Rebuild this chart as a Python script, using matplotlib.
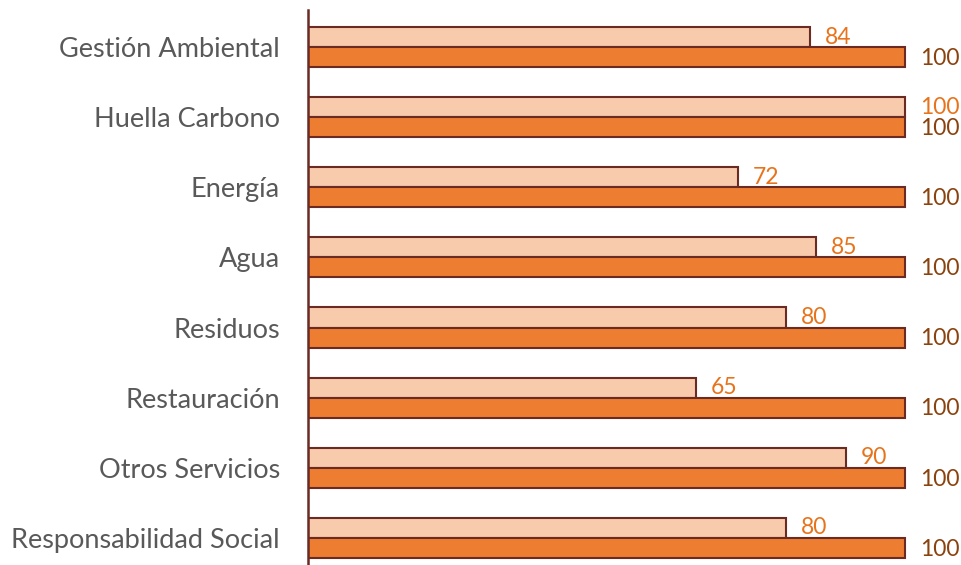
import matplotlib
matplotlib.use("Agg")
import matplotlib.pyplot as plt
import numpy as np

categories = ["Gestión Ambiental", "Huella Carbono", "Energía", "Agua",
              "Residuos", "Restauración", "Otros Servicios", "Responsabilidad Social"]
actual = [84, 100, 72, 85, 80, 65, 90, 80]
target = [100, 100, 100, 100, 100, 100, 100, 100]

LIGHT = "#F8CBAD"
DARK = "#ED7D31"
EDGE = "#6B2A22"
LBL_LIGHT = "#E8731A"
LBL_DARK = "#8A420E"

plt.rcParams["font.family"] = ["Lato", "DejaVu Sans"]

fig = plt.figure(figsize=(9.62, 5.65), dpi=100)
ax = fig.add_axes([0.32, 0.0, 0.68, 0.982])

y = np.arange(len(categories))
h = 0.286
ax.barh(y - h / 2, actual, height=h, color=LIGHT, edgecolor=EDGE, linewidth=1.5)
ax.barh(y + h / 2, target, height=h, color=DARK, edgecolor=EDGE, linewidth=1.5)

# value labels to the right of each bar
for yi, a, t in zip(y, actual, target):
    ax.annotate(str(a), (a, yi - h / 2), xytext=(15, 0), textcoords="offset pixels",
                va="center", ha="left", fontsize=16.5, color=LBL_LIGHT)
    ax.annotate(str(t), (t, yi + h / 2 + 0.02), xytext=(15, 0), textcoords="offset pixels",
                va="center", ha="left", fontsize=16.5, color=LBL_DARK)

ax.set_xlim(0, 109.5)
ax.set_ylim(7.39, -0.53)
ax.set_yticks(y)
ax.set_yticklabels(categories, fontsize=19.5, color="#595959")
ax.tick_params(axis="y", length=0, pad=20)
ax.set_xticks([])
for s in ["top", "right", "bottom"]:
    ax.spines[s].set_visible(False)
ax.spines["left"].set_color(EDGE)
ax.spines["left"].set_linewidth(1.8)

fig.savefig("out.png", dpi=100)
